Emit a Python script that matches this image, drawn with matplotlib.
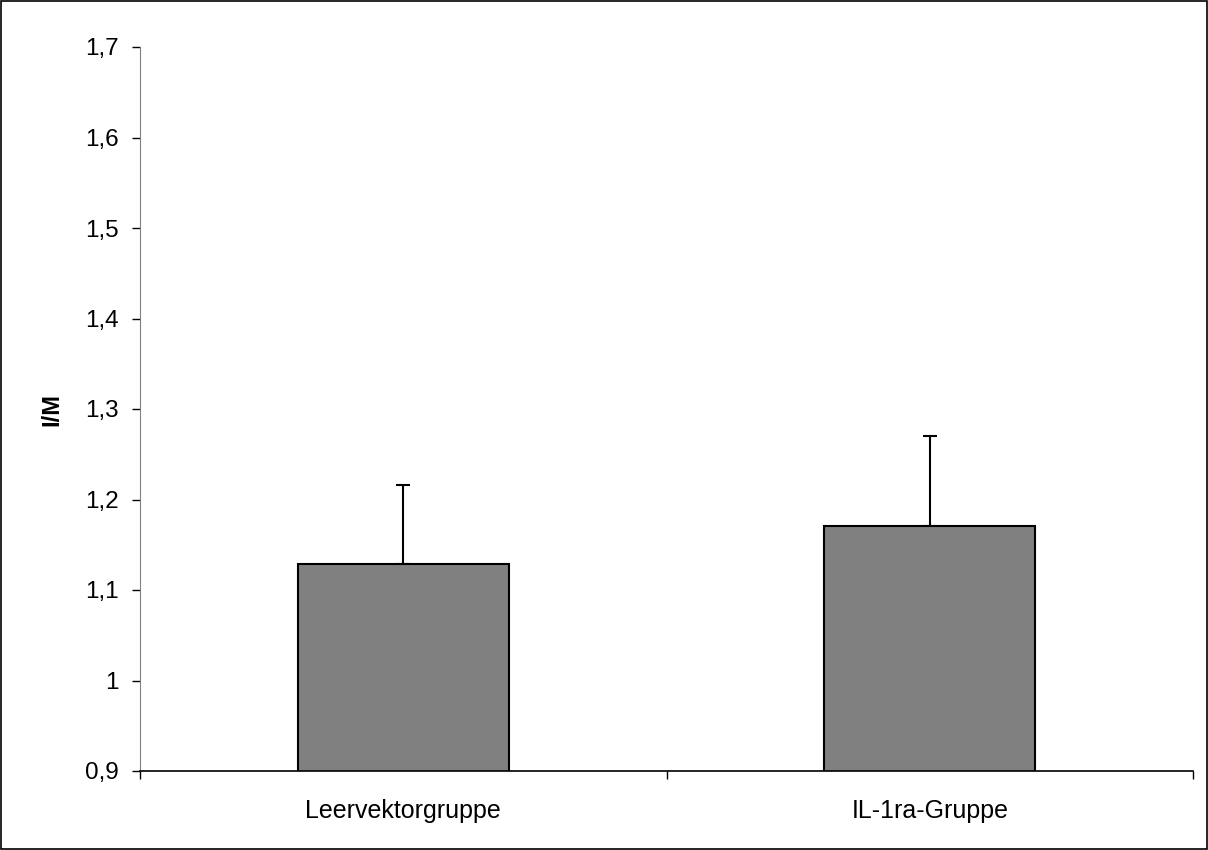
import matplotlib.pyplot as plt
from matplotlib.patches import Rectangle

plt.rcParams["font.family"] = ["Liberation Sans", "DejaVu Sans"]

# values
CATEGORIES = ["Leervektorgruppe", "IL-1ra-Gruppe"]
MEANS = [1.129, 1.171]
ERRORS = [0.087, 0.099]
Y_TICKS = [0.9, 1.0, 1.1, 1.2, 1.3, 1.4, 1.5, 1.6, 1.7]
Y_TICK_LABELS = ["0,9", "1", "1,1", "1,2", "1,3", "1,4", "1,5", "1,6", "1,7"]
Y_LABEL = "I/M"


def main() -> None:
    fig = plt.figure(figsize=(12.08, 8.5), dpi=100)
    ax = fig.add_axes([140 / 1208, 1 - 771 / 850, 1053 / 1208, (771 - 47) / 850])

    x = list(range(len(CATEGORIES)))
    ax.bar(x, MEANS, width=0.4, color="#808080", edgecolor="black", linewidth=1.5, zorder=2)
    # only the upper half of the error bar is shown
    ax.errorbar(x, MEANS, yerr=[[0] * len(ERRORS), ERRORS], fmt="none",
                ecolor="black", elinewidth=1.5, capsize=5, capthick=1.5, zorder=1)

    ax.set_xlim(-0.5, len(CATEGORIES) - 0.5)
    ax.set_ylim(Y_TICKS[0], Y_TICKS[-1])

    ax.set_yticks(Y_TICKS)
    ax.set_yticklabels(Y_TICK_LABELS, fontsize=17.5)
    ax.tick_params(axis="y", direction="out", length=5.5, width=1, pad=10)

    # tick marks between categories, labels centred under the bars
    ax.set_xticks([i - 0.5 for i in range(len(CATEGORIES) + 1)])
    ax.set_xticklabels([])
    ax.set_xticks(x, minor=True)
    ax.set_xticklabels(CATEGORIES, minor=True, fontsize=18)
    ax.tick_params(axis="x", which="major", direction="out", length=5.5, width=1)
    ax.tick_params(axis="x", which="minor", length=0, pad=20)

    ax.spines["top"].set_visible(False)
    ax.spines["right"].set_visible(False)
    ax.spines["left"].set_color("#808080")
    ax.spines["bottom"].set_linewidth(1.2)

    ax.set_ylabel(Y_LABEL, fontsize=17, fontweight="bold")
    ax.yaxis.set_label_coords(-0.073, 0.5)

    # thin frame round the whole picture
    fig.patches.append(Rectangle((0.0005, 0.0008), 0.999, 0.9985, transform=fig.transFigure,
                                 fill=False, edgecolor="black", linewidth=1.2))

    fig.savefig("out.png", dpi=100)
    plt.close(fig)


if __name__ == "__main__":
    main()
